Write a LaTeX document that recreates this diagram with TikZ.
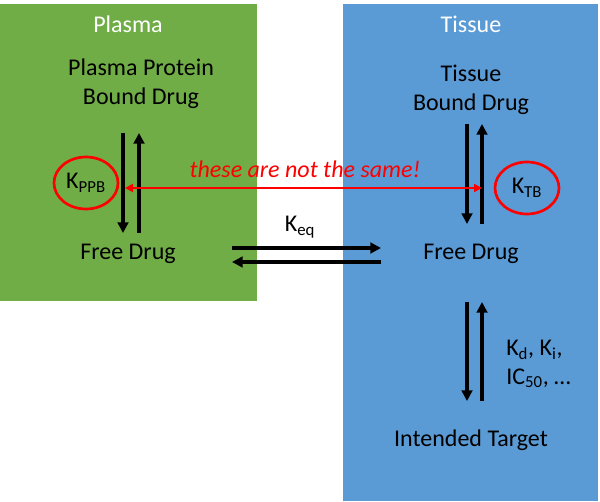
\documentclass[tikz,border=0pt]{standalone}
\usepackage{fontspec}
\setmainfont{Carlito}
\usetikzlibrary{arrows.meta,shapes.geometric}
\definecolor{plgreen}{HTML}{70AD47}
\definecolor{tiblue}{HTML}{5B9BD5}
\begin{document}
\begin{tikzpicture}[x=0.75pt,y=-0.75pt,
  txt/.style={font=\fontsize{18}{21.5}\selectfont,align=center,inner sep=0pt},
  hdr/.style={txt,text=white},
  blk/.style={line width=2.3pt,-{Triangle[width=8pt,length=8pt]}},
  redarr/.style={red,line width=1.5pt,{Triangle[width=6pt,length=6pt]}-{Triangle[width=6pt,length=6pt]}},
  kell/.style={ellipse,draw=red,line width=2pt,txt,minimum width=48pt,minimum height=39pt}]
\useasboundingbox (0,0) rectangle (600,502);
\fill[plgreen] (0,4) rectangle (257,301);
\fill[tiblue] (343,4) rectangle (598,501);
\node[hdr] (hp) at (128,24) {Plasma};
\node[hdr] (ht) at (471,24) {Tissue};
\node[txt] (ppb) at (141,84) {Plasma Protein\\Bound Drug};
\node[txt] (tb) at (471,90) {Tissue\\Bound Drug};
\node[txt] (fl) at (128,254) {Free Drug};
\node[txt] (fr) at (471,254) {Free Drug};
\node[txt] (it) at (471,440) {Intended Target};
\node[txt] (keq) at (300,227) {K\textsubscript{eq}};
\node[txt,align=left,anchor=west] (kd) at (506,364) {K\textsubscript{d}, K\textsubscript{i},\\IC\textsubscript{50}, …};
\node[kell] (kppb) at (86,183) {K\textsubscript{PPB}};
\node[kell] (ktb) at (527,188) {K\textsubscript{TB}};
\node[txt,text=red,font=\fontsize{18}{21.5}\selectfont\itshape] (ns) at (305,169) {these are not the same!};
% coordinates
\coordinate (la1) at (123,133); \coordinate (la2) at (123,233);
\coordinate (lb1) at (139,233); \coordinate (lb2) at (139,133);
\coordinate (ra1) at (467,124); \coordinate (ra2) at (467,224);
\coordinate (rb1) at (482,224); \coordinate (rb2) at (482,124);
\coordinate (ea1) at (232,248); \coordinate (ea2) at (381,248);
\coordinate (eb1) at (381,262); \coordinate (eb2) at (232,262);
\coordinate (ta1) at (467,302); \coordinate (ta2) at (467,401);
\coordinate (tb1) at (482,401); \coordinate (tb2) at (482,302);
\coordinate (rl) at (125,188); \coordinate (rr) at (482,188);
\draw[blk] (la1) -- (la2);
\draw[blk] (lb1) -- (lb2);
\draw[blk] (ra1) -- (ra2);
\draw[blk] (rb1) -- (rb2);
\draw[blk] (ea1) -- (ea2);
\draw[blk] (eb1) -- (eb2);
\draw[blk] (ta1) -- (ta2);
\draw[blk] (tb1) -- (tb2);
\draw[redarr] (rl) -- (rr);
\end{tikzpicture}
\end{document}
